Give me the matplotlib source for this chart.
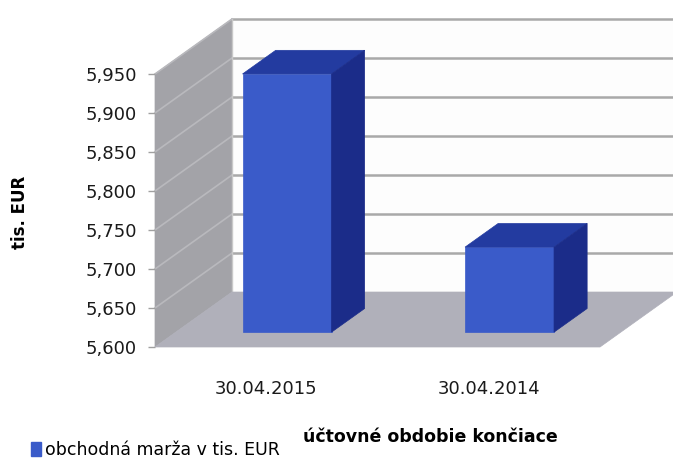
import matplotlib
matplotlib.use('Agg')
import matplotlib.pyplot as plt
from matplotlib.patches import Polygon, Patch
from matplotlib.ticker import FuncFormatter

# data
categories = ["30.04.2015", "30.04.2014"]
values = [5931, 5709]
series_name = "obchodná marža v tis. EUR"
y_ticks = [5600, 5650, 5700, 5750, 5800, 5850, 5900, 5950]
x_title = "účtovné obdobie končiace"
y_title = "tis. EUR"

Y_MIN, Y_MAX = 5600, 5950
N = len(categories)

# oblique depth offset (full depth), in data units
DX = 0.346
DY = 70.5

SIDE_C = "#a3a3a8"
SIDE_GRID = "#b9b9bd"
FLOOR_C = "#b0b0ba"
BACK_C = "#fdfdfd"
GRID_C = "#a9a9a9"
FRONT_C = "#3a5bc9"
TOP_C = "#233ba0"
RIGHT_C = "#1b2c89"


def proj(x, v, d):
    return (x + d * DX, v + d * DY)


def face(ax, pts, color, z):
    poly = Polygon([proj(*p) for p in pts], closed=True, facecolor=color,
                   edgecolor=color, linewidth=0.5, clip_on=False, zorder=z)
    ax.add_patch(poly)


W, H = 673, 462
fig = plt.figure(figsize=(W / 100, H / 100), dpi=100)
ax = fig.add_axes([155 / W, (H - 347) / H, (600 - 155) / W, (347 - 74) / H])
ax.set_xlim(0, N)
ax.set_ylim(Y_MIN, Y_MAX)
ax.patch.set_visible(False)
for s in ax.spines.values():
    s.set_visible(False)

# walls and floor
face(ax, [(0, Y_MIN, 1), (N, Y_MIN, 1), (N, Y_MAX, 1), (0, Y_MAX, 1)], BACK_C, 1)
face(ax, [(0, Y_MIN, 0), (0, Y_MAX, 0), (0, Y_MAX, 1), (0, Y_MIN, 1)], SIDE_C, 1)
face(ax, [(0, Y_MIN, 0), (N, Y_MIN, 0), (N, Y_MIN, 1), (0, Y_MIN, 1)], FLOOR_C, 2)

# gridlines on back and side walls
for v in y_ticks:
    x0, y0 = proj(0, v, 1)
    x1, y1 = proj(N, v, 1)
    if v > Y_MIN:
        ax.plot([x0, x1], [y0, y1], color=GRID_C, lw=1.8, clip_on=False, zorder=1.5)
        fx, fy = proj(0, v, 0)
        ax.plot([fx, x0], [fy, y0], color=SIDE_GRID, lw=1.2, clip_on=False, zorder=1.5)
bx0, by0 = proj(0, Y_MIN, 1)
bx1, by1 = proj(0, Y_MAX, 1)
ax.plot([bx0, bx1], [by0, by1], color="#c8c8c8", lw=1.0, clip_on=False, zorder=1.6)

# bars
half_w = 0.2
d0, d1 = 0.27, 0.70
for i, val in enumerate(values):
    xl = i + 0.5 - half_w
    xr = i + 0.5 + half_w
    z = 5 + i
    face(ax, [(xl, Y_MIN, d0), (xr, Y_MIN, d0), (xr, val, d0), (xl, val, d0)], FRONT_C, z)
    face(ax, [(xl, val, d0), (xr, val, d0), (xr, val, d1), (xl, val, d1)], TOP_C, z)
    face(ax, [(xr, Y_MIN, d0), (xr, Y_MIN, d1), (xr, val, d1), (xr, val, d0)], RIGHT_C, z)

# axes text
ax.set_yticks(y_ticks)
ax.yaxis.set_major_formatter(FuncFormatter(lambda v, p: f"{int(v):,}"))
ax.tick_params(axis='y', length=5, width=1, color="#a0a0a0", pad=8,
               labelsize=13, labelcolor="#1a1a1a")
ax.set_xticks([i + 0.5 for i in range(N)])
ax.set_xticklabels(categories)
ax.tick_params(axis='x', length=0, pad=24, labelsize=13, labelcolor="#1a1a1a")

ax.set_ylabel(y_title, fontsize=12, fontweight='bold')
ax.yaxis.set_label_coords(-(155 - 29) / (600 - 155), (347 - 212) / (347 - 74))
ax.set_xlabel(x_title, fontsize=12.5, fontweight='bold')
ax.xaxis.set_label_coords((430 - 155) / (600 - 155), -(437 - 347 - 9) / (347 - 74))

handle = Patch(facecolor=FRONT_C, edgecolor=FRONT_C, label=series_name)
fig.legend(handles=[handle], loc='lower left', bbox_to_anchor=(0.028, -0.02),
           frameon=False, fontsize=12.5, handlelength=0.6, handleheight=0.9,
           handletextpad=0.2, borderpad=0.2)

fig.savefig("out.png", dpi=100, facecolor="white")
